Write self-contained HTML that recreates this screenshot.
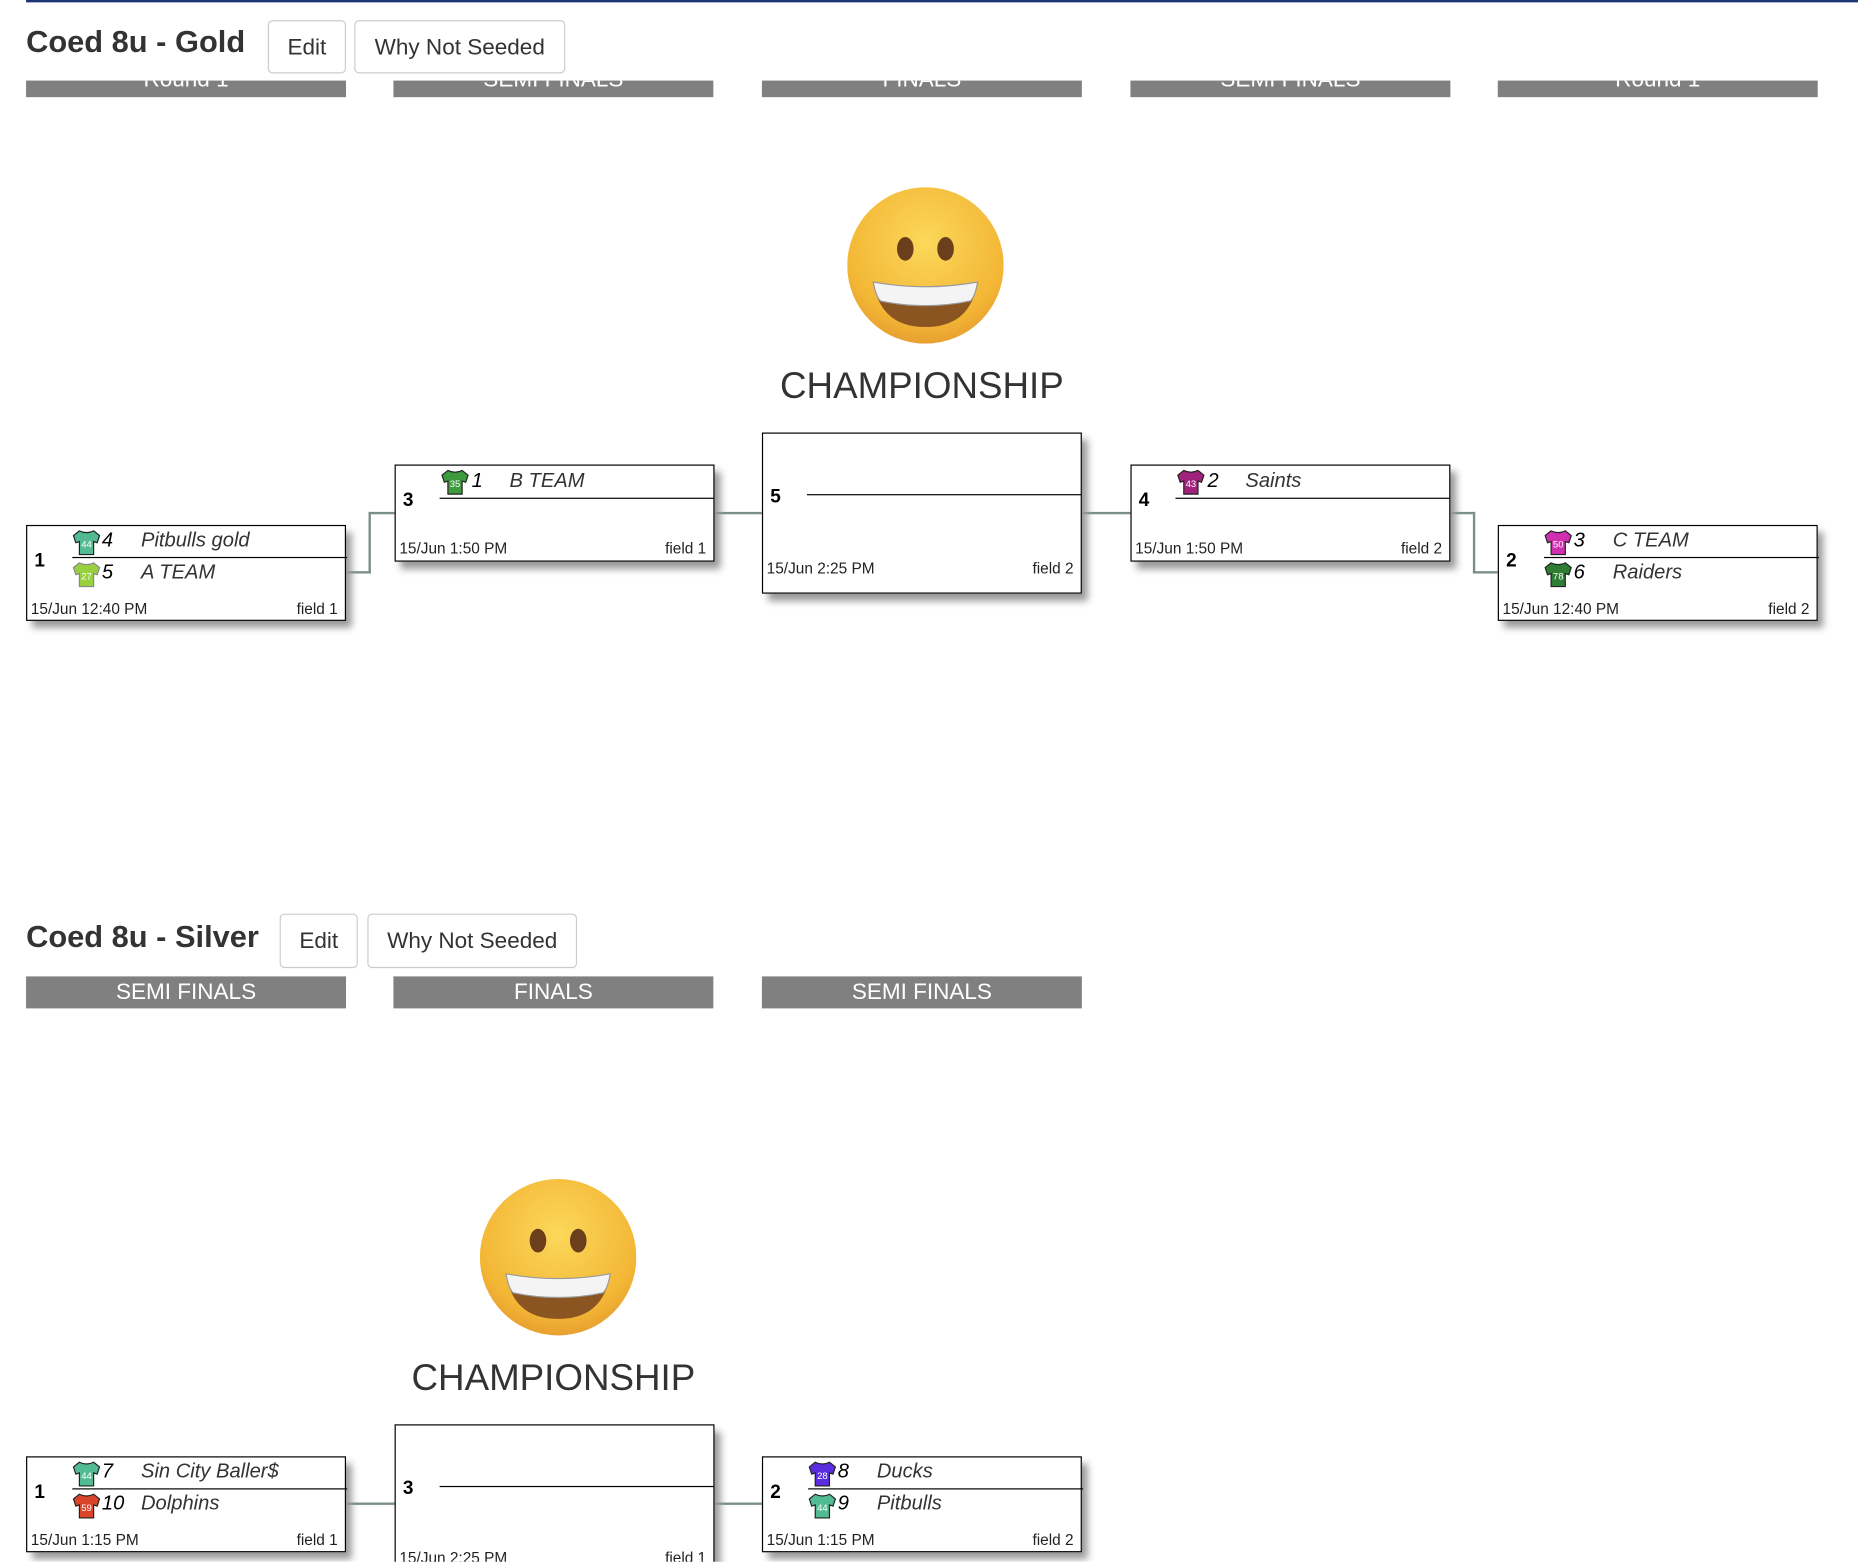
<!DOCTYPE html>
<html><head><meta charset="utf-8"><style>
html,body{margin:0;padding:0;background:#fff;width:1858px;height:1562px;overflow:hidden}
#w{position:absolute;left:0;top:0;width:1568px;height:1318px;transform:scale(1.18495);transform-origin:0 0;font-family:"Liberation Sans",Arial,sans-serif;color:#333;overflow:hidden}
.a{position:absolute}
.title{font-size:26px;font-weight:bold;color:#333;white-space:nowrap}
.btn{position:absolute;border:1px solid #ccc;border-radius:4px;background:#fff;font-size:19px;color:#333;text-align:center;box-sizing:border-box}
.bar{position:absolute;background:#808080;color:#fff;font-size:19px;text-align:center;width:270px;overflow:hidden}
.box{position:absolute;border:1px solid #000;background:#fff;box-shadow:5px 6px 6px #999;box-sizing:border-box}
.num{position:absolute;font-weight:bold;font-size:16px;color:#000}
.hl{position:absolute;height:0;border-top:1px solid #000}
.seed{position:absolute;font-style:italic;font-size:17px;color:#000}
.tn{position:absolute;font-style:italic;font-size:17px;color:#333;white-space:nowrap}
.dt{position:absolute;font-size:13px;color:#222;white-space:nowrap}
.c{position:absolute;background:#7a8f88}
.champ{position:absolute;font-size:31px;color:#333;text-align:center;width:400px}
</style></head><body><div id="w">
<svg width="0" height="0" style="position:absolute"><defs>
<g id="face">
<radialGradient id="fg" cx="50%" cy="35%" r="65%"><stop offset="0" stop-color="#fcd85a"/><stop offset="0.8" stop-color="#f3b635"/><stop offset="1" stop-color="#e8a030"/></radialGradient>
<circle cx="66" cy="66" r="66" fill="url(#fg)"/>
<ellipse cx="49" cy="52" rx="7" ry="10" fill="#6b3e1c"/>
<ellipse cx="83" cy="52" rx="7" ry="10" fill="#6b3e1c"/>
<path d="M22 80 Q66 88 110 80 Q104 118 66 118 Q28 118 22 80Z" fill="#8b5522"/>
<path d="M22 80 Q66 88 110 80 Q108 92 104 96 Q66 104 28 96 Q24 92 22 80Z" fill="#f4f4f4" stroke="#999" stroke-width="1"/>
</g></defs></svg>

<div class="a" style="left:22px;top:0;width:1546px;height:2px;background:#1c3575"></div>

<!-- GOLD -->
<div class="a title" style="left:22px;top:20px">Coed 8u - Gold</div>
<div class="btn" style="left:226px;top:17px;width:66px;height:45px;line-height:45px">Edit</div>
<div class="btn" style="left:299px;top:17px;width:178px;height:45px;line-height:45px">Why Not Seeded</div>
<div class="bar" style="left:22px;top:68px;height:14px;line-height:0px">Round 1</div>
<div class="bar" style="left:332px;top:68px;height:14px;line-height:0px">SEMI FINALS</div>
<div class="bar" style="left:643px;top:68px;height:14px;line-height:0px">FINALS</div>
<div class="bar" style="left:954px;top:68px;height:14px;line-height:0px">SEMI FINALS</div>
<div class="bar" style="left:1264px;top:68px;height:14px;line-height:0px">Round 1</div>

<svg class="a" style="left:715px;top:158px" width="132" height="132"><use href="#face"/></svg>
<div class="champ" style="left:578px;top:308px">CHAMPIONSHIP</div>

<!-- connectors gold -->
<div class="c" style="left:291px;top:482px;width:22px;height:2px"></div>
<div class="c" style="left:311px;top:432px;width:2px;height:52px"></div>
<div class="c" style="left:311px;top:432px;width:22px;height:2px"></div>
<div class="c" style="left:602px;top:432px;width:41px;height:2px"></div>
<div class="c" style="left:913px;top:432px;width:41px;height:2px"></div>
<div class="c" style="left:1223px;top:432px;width:21px;height:2px"></div>
<div class="c" style="left:1243px;top:432px;width:2px;height:52px"></div>
<div class="c" style="left:1243px;top:482px;width:21px;height:2px"></div>

<!-- R1 left -->
<div class="box" style="left:22px;top:443px;width:270px;height:81px">
 <div class="num" style="left:6px;top:21px">1</div>
 <svg class="a" style="left:38px;top:3px" width="24" height="22"><path d="M6 1 L1 5 L3 11 L6 10 L6 21 L18 21 L18 10 L21 11 L23 5 L18 1 Q12 4 6 1Z" fill="#52bb93" stroke="#222" stroke-width="1"/><text x="12" y="15" font-size="8" fill="#fff" text-anchor="middle" font-family="Liberation Sans">44</text></svg>
 <div class="seed" style="left:63px;top:2px">4</div><div class="tn" style="left:96px;top:2px">Pitbulls gold</div>
 <div class="hl" style="left:38px;top:26px;width:232px"></div>
 <svg class="a" style="left:38px;top:30px" width="24" height="22"><path d="M6 1 L1 5 L3 11 L6 10 L6 21 L18 21 L18 10 L21 11 L23 5 L18 1 Q12 4 6 1Z" fill="#98d040" stroke="#888" stroke-width="1"/><text x="12" y="15" font-size="8" fill="#fff" text-anchor="middle" font-family="Liberation Sans">27</text></svg>
 <div class="seed" style="left:63px;top:29px">5</div><div class="tn" style="left:96px;top:29px">A TEAM</div>
 <div class="dt" style="left:3px;top:62px">15/Jun 12:40 PM</div><div class="dt" style="right:6px;top:62px">field 1</div>
</div>
<!-- semi left -->
<div class="box" style="left:333px;top:392px;width:270px;height:82px">
 <div class="num" style="left:6px;top:21px">3</div>
 <svg class="a" style="left:38px;top:3px" width="24" height="22"><path d="M6 1 L1 5 L3 11 L6 10 L6 21 L18 21 L18 10 L21 11 L23 5 L18 1 Q12 4 6 1Z" fill="#3d9a3d" stroke="#222" stroke-width="1"/><text x="12" y="15" font-size="8" fill="#fff" text-anchor="middle" font-family="Liberation Sans">35</text></svg>
 <div class="seed" style="left:64px;top:3px">1</div><div class="tn" style="left:96px;top:3px">B TEAM</div>
 <div class="hl" style="left:37px;top:27px;width:232px"></div>
 <div class="dt" style="left:3px;top:62px">15/Jun 1:50 PM</div><div class="dt" style="right:6px;top:62px">field 1</div>
</div>
<!-- final -->
<div class="box" style="left:643px;top:365px;width:270px;height:136px">
 <div class="num" style="left:6px;top:45px">5</div>
 <div class="hl" style="left:37px;top:51px;width:232px"></div>
 <div class="dt" style="left:3px;top:106px">15/Jun 2:25 PM</div><div class="dt" style="right:6px;top:106px">field 2</div>
</div>
<!-- semi right -->
<div class="box" style="left:954px;top:392px;width:270px;height:82px">
 <div class="num" style="left:6px;top:21px">4</div>
 <svg class="a" style="left:38px;top:3px" width="24" height="22"><path d="M6 1 L1 5 L3 11 L6 10 L6 21 L18 21 L18 10 L21 11 L23 5 L18 1 Q12 4 6 1Z" fill="#a0227a" stroke="#222" stroke-width="1"/><text x="12" y="15" font-size="8" fill="#fff" text-anchor="middle" font-family="Liberation Sans">43</text></svg>
 <div class="seed" style="left:64px;top:3px">2</div><div class="tn" style="left:96px;top:3px">Saints</div>
 <div class="hl" style="left:37px;top:27px;width:232px"></div>
 <div class="dt" style="left:3px;top:62px">15/Jun 1:50 PM</div><div class="dt" style="right:6px;top:62px">field 2</div>
</div>
<!-- R1 right -->
<div class="box" style="left:1264px;top:443px;width:270px;height:81px">
 <div class="num" style="left:6px;top:21px">2</div>
 <svg class="a" style="left:38px;top:3px" width="24" height="22"><path d="M6 1 L1 5 L3 11 L6 10 L6 21 L18 21 L18 10 L21 11 L23 5 L18 1 Q12 4 6 1Z" fill="#d030b0" stroke="#222" stroke-width="1"/><text x="12" y="15" font-size="8" fill="#fff" text-anchor="middle" font-family="Liberation Sans">50</text></svg>
 <div class="seed" style="left:63px;top:2px">3</div><div class="tn" style="left:96px;top:2px">C TEAM</div>
 <div class="hl" style="left:38px;top:26px;width:232px"></div>
 <svg class="a" style="left:38px;top:30px" width="24" height="22"><path d="M6 1 L1 5 L3 11 L6 10 L6 21 L18 21 L18 10 L21 11 L23 5 L18 1 Q12 4 6 1Z" fill="#2e7d32" stroke="#222" stroke-width="1"/><text x="12" y="15" font-size="8" fill="#fff" text-anchor="middle" font-family="Liberation Sans">78</text></svg>
 <div class="seed" style="left:63px;top:29px">6</div><div class="tn" style="left:96px;top:29px">Raiders</div>
 <div class="dt" style="left:3px;top:62px">15/Jun 12:40 PM</div><div class="dt" style="right:6px;top:62px">field 2</div>
</div>

<!-- SILVER -->
<div class="a title" style="left:22px;top:775px">Coed 8u - Silver</div>
<div class="btn" style="left:236px;top:771px;width:66px;height:46px;line-height:46px">Edit</div>
<div class="btn" style="left:310px;top:771px;width:177px;height:46px;line-height:46px">Why Not Seeded</div>
<div class="bar" style="left:22px;top:824px;height:27px;line-height:27px">SEMI FINALS</div>
<div class="bar" style="left:332px;top:824px;height:27px;line-height:27px">FINALS</div>
<div class="bar" style="left:643px;top:824px;height:27px;line-height:27px">SEMI FINALS</div>

<svg class="a" style="left:405px;top:995px" width="132" height="132"><use href="#face"/></svg>
<div class="champ" style="left:267px;top:1145px">CHAMPIONSHIP</div>

<div class="c" style="left:291px;top:1268px;width:42px;height:2px"></div>
<div class="c" style="left:602px;top:1268px;width:41px;height:2px"></div>

<div class="box" style="left:22px;top:1229px;width:270px;height:81px">
 <div class="num" style="left:6px;top:21px">1</div>
 <svg class="a" style="left:38px;top:3px" width="24" height="22"><path d="M6 1 L1 5 L3 11 L6 10 L6 21 L18 21 L18 10 L21 11 L23 5 L18 1 Q12 4 6 1Z" fill="#52bb93" stroke="#222" stroke-width="1"/><text x="12" y="15" font-size="8" fill="#fff" text-anchor="middle" font-family="Liberation Sans">44</text></svg>
 <div class="seed" style="left:63px;top:2px">7</div><div class="tn" style="left:96px;top:2px">Sin City Baller$</div>
 <div class="hl" style="left:38px;top:26px;width:232px"></div>
 <svg class="a" style="left:38px;top:30px" width="24" height="22"><path d="M6 1 L1 5 L3 11 L6 10 L6 21 L18 21 L18 10 L21 11 L23 5 L18 1 Q12 4 6 1Z" fill="#d8452a" stroke="#222" stroke-width="1"/><text x="12" y="15" font-size="8" fill="#fff" text-anchor="middle" font-family="Liberation Sans">59</text></svg>
 <div class="seed" style="left:63px;top:29px">10</div><div class="tn" style="left:96px;top:29px">Dolphins</div>
 <div class="dt" style="left:3px;top:62px">15/Jun 1:15 PM</div><div class="dt" style="right:6px;top:62px">field 1</div>
</div>
<div class="box" style="left:333px;top:1202px;width:270px;height:136px">
 <div class="num" style="left:6px;top:45px">3</div>
 <div class="hl" style="left:37px;top:51px;width:232px"></div>
 <div class="dt" style="left:3px;top:104px">15/Jun 2:25 PM</div><div class="dt" style="right:6px;top:104px">field 1</div>
</div>
<div class="box" style="left:643px;top:1229px;width:270px;height:81px">
 <div class="num" style="left:6px;top:21px">2</div>
 <svg class="a" style="left:38px;top:3px" width="24" height="22"><path d="M6 1 L1 5 L3 11 L6 10 L6 21 L18 21 L18 10 L21 11 L23 5 L18 1 Q12 4 6 1Z" fill="#5a2ee0" stroke="#222" stroke-width="1"/><text x="12" y="15" font-size="8" fill="#fff" text-anchor="middle" font-family="Liberation Sans">28</text></svg>
 <div class="seed" style="left:63px;top:2px">8</div><div class="tn" style="left:96px;top:2px">Ducks</div>
 <div class="hl" style="left:38px;top:26px;width:232px"></div>
 <svg class="a" style="left:38px;top:30px" width="24" height="22"><path d="M6 1 L1 5 L3 11 L6 10 L6 21 L18 21 L18 10 L21 11 L23 5 L18 1 Q12 4 6 1Z" fill="#52bb93" stroke="#222" stroke-width="1"/><text x="12" y="15" font-size="8" fill="#fff" text-anchor="middle" font-family="Liberation Sans">44</text></svg>
 <div class="seed" style="left:63px;top:29px">9</div><div class="tn" style="left:96px;top:29px">Pitbulls</div>
 <div class="dt" style="left:3px;top:62px">15/Jun 1:15 PM</div><div class="dt" style="right:6px;top:62px">field 2</div>
</div>
</div></body></html>
